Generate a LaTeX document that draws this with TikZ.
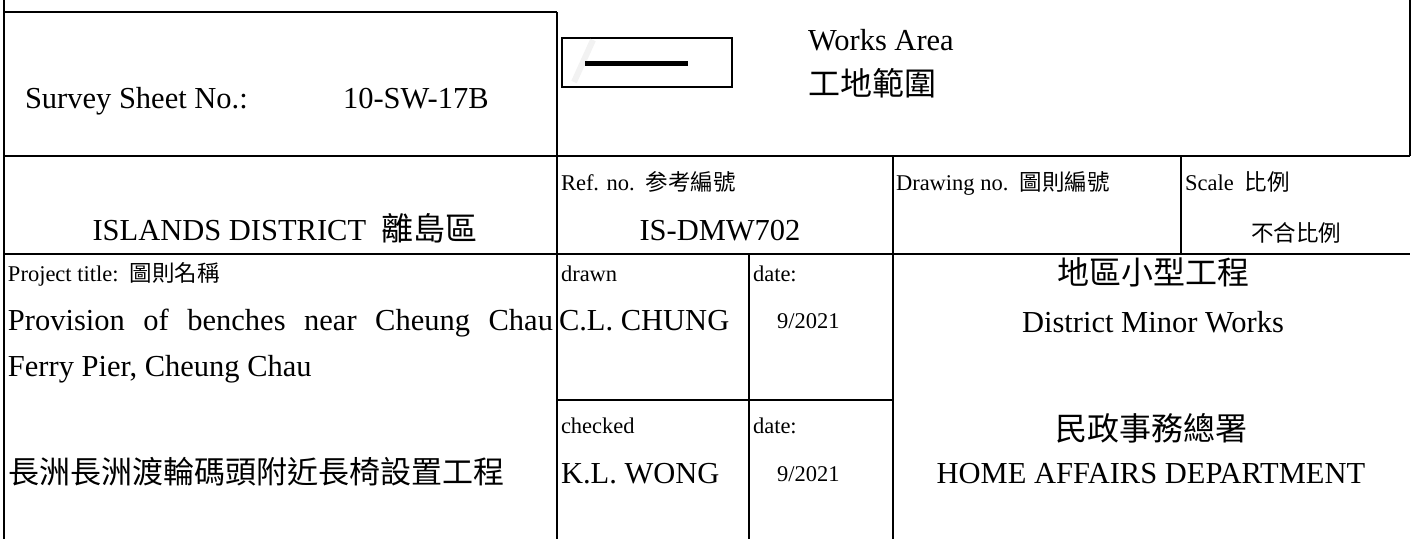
\documentclass[tikz,border=0pt]{standalone}
\usepackage{fontspec}
\setmainfont{Liberation Serif}
\newfontfamily\cjk{Noto Sans CJK TC}
\newcommand\cjkbig{\cjk\fontsize{32}{38}\selectfont}
\newcommand\cjksmall{\cjk\fontsize{22.5}{27}\selectfont}
\begin{document}
\begin{tikzpicture}[x=1pt,y=-1pt,
  grid/.style={line width=2.8pt},
  big/.style={inner sep=0pt, outer sep=0pt, font=\fontsize{30.5}{36}\selectfont},
  small/.style={inner sep=0pt, outer sep=0pt, font=\fontsize{22.5}{27}\selectfont},
  bw/.style={anchor=base west},
  bc/.style={anchor=base}]
\useasboundingbox (0,0) rectangle (1418,539);
% grid lines
\coordinate (tl) at (4,0);
\coordinate (bl) at (4,539);
\draw[grid] (tl) -- (bl);
\draw[grid] (4,12) -- (557,12);
\draw[grid] (557,12) -- (557,539);
\draw[grid] (1410,0) -- (1410,156);
\draw[grid] (4,156) -- (1410,156);
\draw[grid] (893,156) -- (893,539);
\draw[grid] (1181,156) -- (1181,254);
\draw[grid] (4,254) -- (1410,254);
\draw[grid] (749,254) -- (749,539);
\draw[grid] (557,400) -- (893,400);
% legend symbol
\draw[line width=2.2pt] (562,38) rectangle (732,87);
\draw[gray!10, line width=6pt] (593,40) -- (574,82);
\draw[line width=5pt] (585,63) -- (688,63);
% texts
\node[big,bw] (survey) at (25,108) {Survey Sheet No.:};
\node[big,bw] (sheetno) at (343,108) {10-SW-17B};
\node[big,bw] (works) at (808,50) {Works Area};
\node[bw,inner sep=0pt] (worksc) at (808,95) {\cjkbig 工地範圍};
\node[big,bc] (district) at (285,240) {ISLANDS DISTRICT\ \ {\cjkbig 離島區}};
\node[small,bw] (refl) at (561,190) {Ref. no.\ \ {\cjksmall 参考編號}};
\node[big,bc] (ref) at (720,240) {IS-DMW702};
\node[small,bw] (drawl) at (896,190) {Drawing no.\ \ {\cjksmall 圖則編號}};
\node[small,bw] (scalel) at (1185,190) {Scale\ \ {\cjksmall 比例}};
\node[small,bc] (scale) at (1296,241) {\cjksmall 不合比例};
\node[small,bw] (ptl) at (8,281) {Project title:\ \ {\cjksmall 圖則名稱}};
\node[big,bw] (pt1) at (8,330) {\makebox[545pt][s]{Provision of benches near Cheung Chau}};
\node[big,bw] (pt2) at (8,376) {Ferry Pier, Cheung Chau};
\node[bw,inner sep=0pt] (ptc) at (8,483) {\cjk\fontsize{31}{36}\selectfont 長洲長洲渡輪碼頭附近長椅設置工程};
\node[small,bw] (drawnl) at (561,281) {drawn};
\node[big,bw] (drawn) at (559,330) {C.L. CHUNG};
\node[small,bw] (date1l) at (753,281) {date:};
\node[small,bw] (date1) at (777,328) {9/2021};
\node[bc,inner sep=0pt] (dmwc) at (1153,284) {\cjkbig 地區小型工程};
\node[big,bc] (dmw) at (1153,332) {District Minor Works};
\node[small,bw] (checkedl) at (561,433) {checked};
\node[big,bw] (checked) at (561,483) {K.L. WONG};
\node[small,bw] (date2l) at (753,433) {date:};
\node[small,bw] (date2) at (777,481) {9/2021};
\node[bc,inner sep=0pt] (hadc) at (1151,440) {\cjkbig 民政事務總署};
\node[big,bc] (had) at (1151,483) {HOME AFFAIRS DEPARTMENT};
\end{tikzpicture}
\end{document}
